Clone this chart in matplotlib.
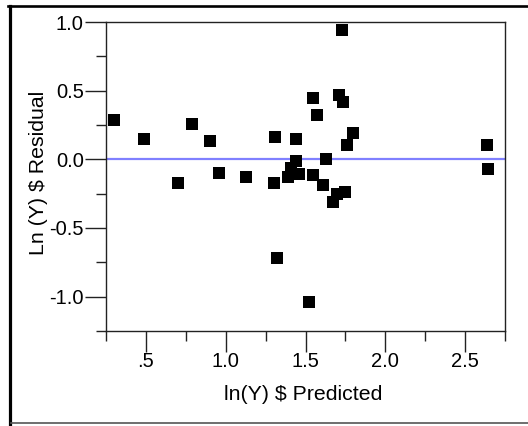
import matplotlib
matplotlib.use("Agg")
import matplotlib.pyplot as plt
from matplotlib.lines import Line2D
from matplotlib.ticker import FixedLocator, FixedFormatter

plt.rcParams["font.family"] = ["Liberation Sans", "DejaVu Sans"]
plt.rcParams["axes.unicode_minus"] = False

# predicted ln(Y) and residuals of the fit
predicted = [0.30, 0.49, 0.70, 0.79, 0.90, 0.96, 1.125, 1.30, 1.31, 1.32,
             1.39, 1.41, 1.44, 1.44, 1.46, 1.52, 1.55, 1.55, 1.57, 1.61,
             1.63, 1.67, 1.70, 1.71, 1.73, 1.735, 1.75, 1.76, 1.80, 2.635, 2.645]
residual = [0.29, 0.145, -0.17, 0.26, 0.13, -0.10, -0.13, -0.17, 0.16, -0.72,
            -0.13, -0.06, 0.145, -0.01, -0.105, -1.04, 0.45, -0.115, 0.32, -0.185,
            0.0, -0.31, -0.255, 0.465, 0.94, 0.42, -0.24, 0.105, 0.19, 0.105, -0.07]

x_major = [0.5, 1.0, 1.5, 2.0, 2.5]
x_labels = [".5", "1.0", "1.5", "2.0", "2.5"]
x_minor = [0.25, 0.75, 1.25, 1.75, 2.25, 2.75]
y_major = [1.0, 0.5, 0.0, -0.5, -1.0]
y_labels = ["1.0", "0.5", "0.0", "-0.5", "-1.0"]
y_minor = [0.75, 0.25, -0.25, -0.75, -1.25]

W, H = 528, 426
fig = plt.figure(figsize=(W / 100, H / 100), dpi=100)
ax = fig.add_axes([106 / W, 1 - 331 / H, 399 / W, 309 / H])

ax.axhline(0, color="#8080ff", lw=1.6, zorder=1)
ax.scatter(predicted, residual, marker="s", s=8.6 ** 2, color="black",
           linewidths=0, zorder=2)

ax.set_xlim(0.25, 2.75)
ax.set_ylim(-1.25, 1.0)
ax.xaxis.set_major_locator(FixedLocator(x_major))
ax.xaxis.set_major_formatter(FixedFormatter(x_labels))
ax.xaxis.set_minor_locator(FixedLocator(x_minor))
ax.yaxis.set_major_locator(FixedLocator(y_major))
ax.yaxis.set_major_formatter(FixedFormatter(y_labels))
ax.yaxis.set_minor_locator(FixedLocator(y_minor))

ax.tick_params(which="major", length=15, width=1.0, color="#222222", labelsize=14.5)
ax.tick_params(which="minor", length=7, width=1.0, color="#222222")
ax.tick_params(axis="x", pad=0)
ax.tick_params(axis="y", pad=1)
for s in ax.spines.values():
    s.set_linewidth(1.0)
    s.set_color("#222222")

ax.set_xlabel("ln(Y) $ Predicted", fontsize=15.3, va="center")
ax.xaxis.set_label_coords(0.494, -0.204)
ax.set_ylabel("Ln (Y) $ Residual", fontsize=15.3, va="center", ha="center")
ax.yaxis.set_label_coords(-0.168, 0.513)

# outer frame of the report panel
fig.add_artist(Line2D([9.5 / W, 9.5 / W], [0, 1 - 5.8 / H], color="black", lw=2.3))
fig.add_artist(Line2D([8 / W, 1], [1 - 5.8 / H, 1 - 5.8 / H], color="black", lw=1.9))
fig.add_artist(Line2D([11 / W, 1], [1 - 422.7 / H, 1 - 422.7 / H], color="#555555", lw=1.2))

fig.savefig("out.png", dpi=100)
